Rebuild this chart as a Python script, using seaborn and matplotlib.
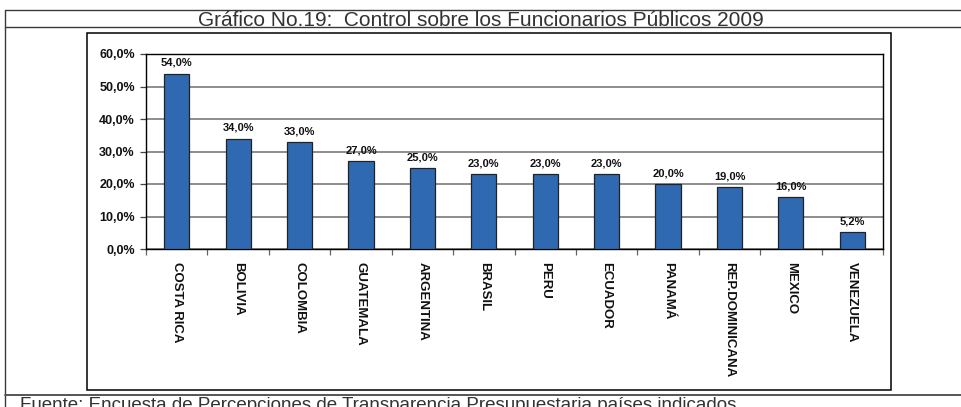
import matplotlib
matplotlib.use("Agg")
import matplotlib.pyplot as plt
from matplotlib import font_manager
from matplotlib.lines import Line2D
from matplotlib.patches import Rectangle
from matplotlib.ticker import FuncFormatter, FixedLocator
import seaborn as sns
import pandas as pd

# Survey results per country (% of respondents)
paises = ["COSTA RICA", "BOLIVIA", "COLOMBIA", "GUATEMALA", "ARGENTINA", "BRASIL",
          "PERU", "ECUADOR", "PANAMÁ", "REP.DOMINICANA", "MEXICO", "VENEZUELA"]
valores = [54.0, 34.0, 33.0, 27.0, 25.0, 23.0, 23.0, 23.0, 20.0, 19.0, 16.0, 5.2]
y_ticks = [0, 10, 20, 30, 40, 50, 60]

titulo = "Gráfico No.19:  Control sobre los Funcionarios Públicos 2009"
fuente = "Fuente: Encuesta de Percepciones de Transparencia Presupuestaria países indicados"

sns.set_theme(style="white")
plt.rcParams["font.family"] = ["Liberation Sans", "DejaVu Sans"]

installed = {f.name for f in font_manager.fontManager.ttflist}
narrow = "Liberation Sans Narrow" if "Liberation Sans Narrow" in installed else "Liberation Sans"

W, H = 961, 407
fig = plt.figure(figsize=(W / 100, H / 100), dpi=100)

def fx(px):
    return px / W

def fy(py):
    return 1 - py / H

# Page frame lines
frame_col = "#3a3a3a"
for (x0, y0, x1, y1, lw, c) in [
    (5, 10, W, 10, 1.0, frame_col),
    (5, 27, W, 27, 1.0, frame_col),
    (5, 10, 5, H, 1.0, frame_col),
    (5, 395, W, 395, 1.4, "#555555"),
]:
    fig.add_artist(Line2D([fx(x0), fx(x1)], [fy(y0), fy(y1)], transform=fig.transFigure,
                          color=c, lw=lw))

# Chart area box
fig.add_artist(Rectangle((fx(87), fy(390)), fx(891) - fx(87), fy(33) - fy(390),
                         transform=fig.transFigure, fill=False, ec="black", lw=1.1))

fig.text(0.5, fy(25.5), titulo, ha="center", va="baseline", fontsize=15,
         color="#333333", family=[narrow, "DejaVu Sans"])
fig.text(fx(20), fy(410), fuente, ha="left", va="baseline", fontsize=13.5,
         color="#333333", family=[narrow, "DejaVu Sans"])

ax = fig.add_axes([fx(146), fy(249), fx(883) - fx(146), fy(54) - fy(249)])

df = pd.DataFrame({"pais": paises, "valor": valores})
sns.barplot(data=df, x="pais", y="valor", ax=ax, color="#2F69B2", saturation=1,
            width=0.41, edgecolor="#222222", linewidth=0.9, zorder=3)

ax.set_xlim(-0.5, len(paises) - 0.5)
ax.set_ylim(0, 60)
ax.grid(axis="y", color="#7a7a7a", lw=1.2, zorder=0)
ax.grid(axis="x", visible=False)
ax.set_xlabel("")
ax.set_ylabel("")

for s in ax.spines.values():
    s.set_visible(True)
    s.set_color("black")
    s.set_linewidth(1.0)

ax.set_yticks(y_ticks, labels=[f"{v:.1f}%".replace(".", ",") for v in y_ticks],
              fontweight="bold", fontsize=9, color="#111111")
ax.set_xticks(range(len(paises)), labels=paises, fontweight="bold", fontsize=9.5,
              rotation=270, ha="center", va="top", color="#111111")

ax.tick_params(axis="y", which="major", direction="out", length=4, width=0.9,
               color="#444444", pad=4, left=True)
ax.tick_params(axis="x", which="major", length=0, pad=9)
ax.xaxis.set_minor_locator(FixedLocator([i - 0.5 for i in range(len(paises) + 1)]))
ax.tick_params(axis="x", which="minor", direction="out", length=4, width=0.9,
               color="#666666", bottom=True)

ax.bar_label(ax.containers[0], labels=[f"{v:.1f}%".replace(".", ",") for v in valores],
             padding=4, fontsize=8, fontweight="bold", color="#111111")

fig.savefig("out.png", dpi=100)
